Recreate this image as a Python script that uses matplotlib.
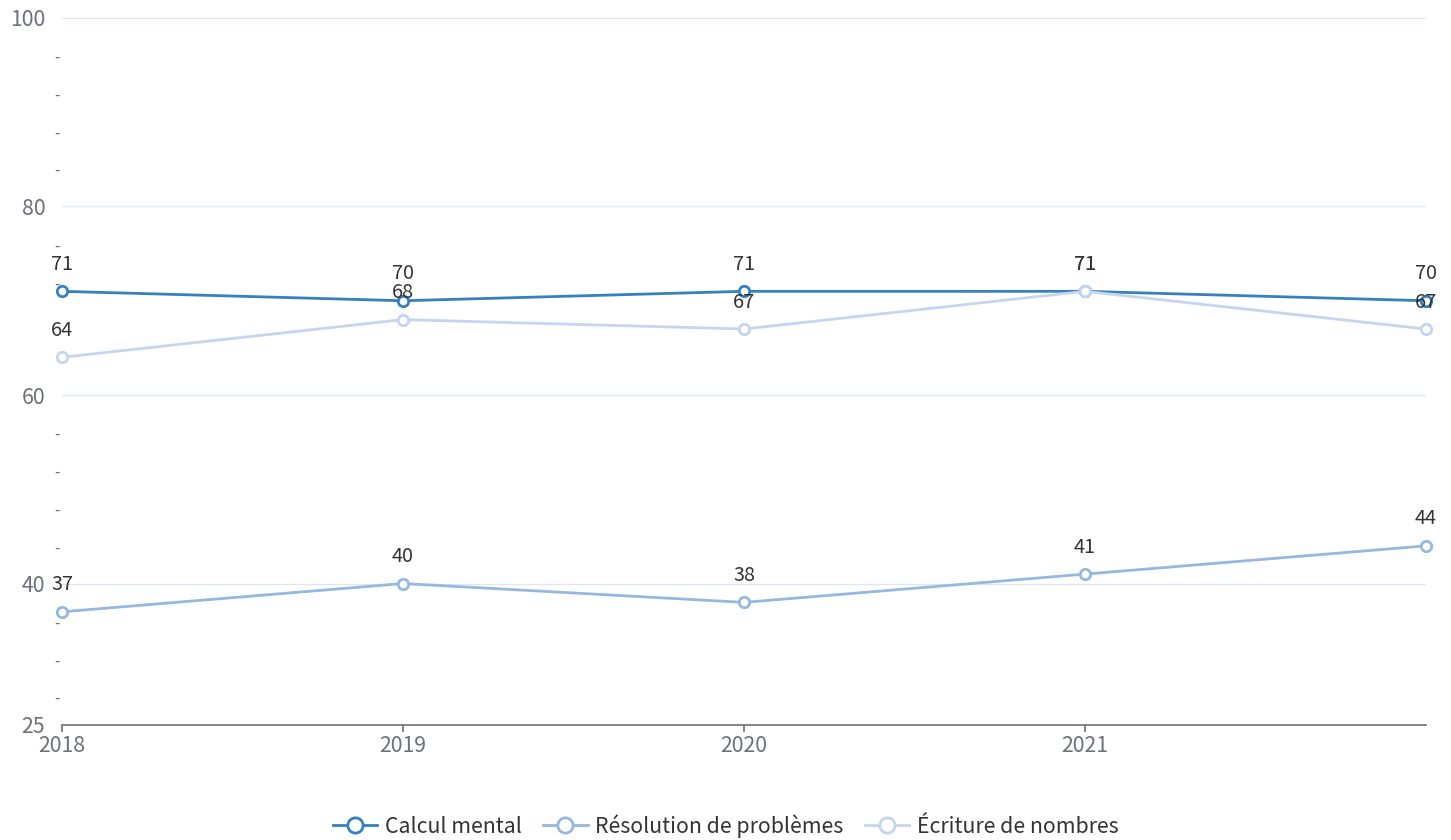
import matplotlib.pyplot as plt
from matplotlib.ticker import FixedLocator, FixedFormatter
from matplotlib.lines import Line2D

plt.rcParams['font.family'] = ['Noto Sans CJK SC', 'DejaVu Sans']

years = [2018, 2019, 2020, 2021, 2022]
calcul = [71, 70, 71, 71, 70]
resolution = [37, 40, 38, 41, 44]
ecriture = [64, 68, 67, 71, 67]
names = ['Calcul mental', 'Résolution de problèmes', 'Écriture de nombres']
colors = ['#3580c1', '#96b7de', '#c5d5f0']

x_ticks = [2018, 2019, 2020, 2021]
y_major = [25, 40, 60, 80, 100]
y_minor = [96, 92, 88, 84, 76, 72, 56, 52, 48, 44, 36, 32, 28]

fs = 15.3

fig = plt.figure(figsize=(14.51, 8.4), dpi=100)
ax = fig.add_axes([0.0427, 0.137, 0.9401, 0.8416])

series = [calcul, resolution, ecriture]
for vals, name, c in zip(series, names, colors):
    ax.plot(years, vals, color=c, lw=2, marker='o', ms=7.5, mfc='white',
            mec=c, mew=2, label=name, zorder=3, clip_on=False)
    for x, v in zip(years, vals):
        ax.annotate(str(v), (x, v), xytext=(0, 27), textcoords='offset pixels',
                    ha='center', va='center', fontsize=14.3, color='#333333',
                    zorder=5)

ax.set_xlim(2018, 2022)
ax.set_ylim(25, 100)
ax.set_xticks(x_ticks)
ax.set_yticks(y_major)
ax.yaxis.set_minor_locator(FixedLocator(y_minor))
ax.yaxis.set_minor_formatter(FixedFormatter(['-'] * len(y_minor)))

for y in [40, 60, 80, 100]:
    ax.axhline(y, color='#e0e6f1', lw=1, zorder=1)

for s in ['top', 'right', 'left']:
    ax.spines[s].set_visible(False)
ax.spines['bottom'].set_color('#6e7079')
ax.spines['bottom'].set_linewidth(1.2)

ax.tick_params(axis='x', colors='#6e7079', labelsize=fs, length=5, width=1.2,
               pad=2)
ax.tick_params(axis='y', which='major', colors='#6e7079', labelsize=fs,
               length=0, pad=12)
ax.tick_params(axis='y', which='minor', colors='#6e7079', labelsize=11,
               length=0, pad=2)

handles = [Line2D([], [], color=c, lw=2, marker='o', ms=11, mfc='white', mec=c,
                  mew=2) for c in colors]
fig.legend(handles, names, loc='center', bbox_to_anchor=(0.5, 0.017), ncol=3,
           frameon=False, fontsize=fs, handlelength=2.1, handletextpad=0.35,
           columnspacing=1.0, labelcolor='#333333')

fig.savefig('out.png', dpi=100)
